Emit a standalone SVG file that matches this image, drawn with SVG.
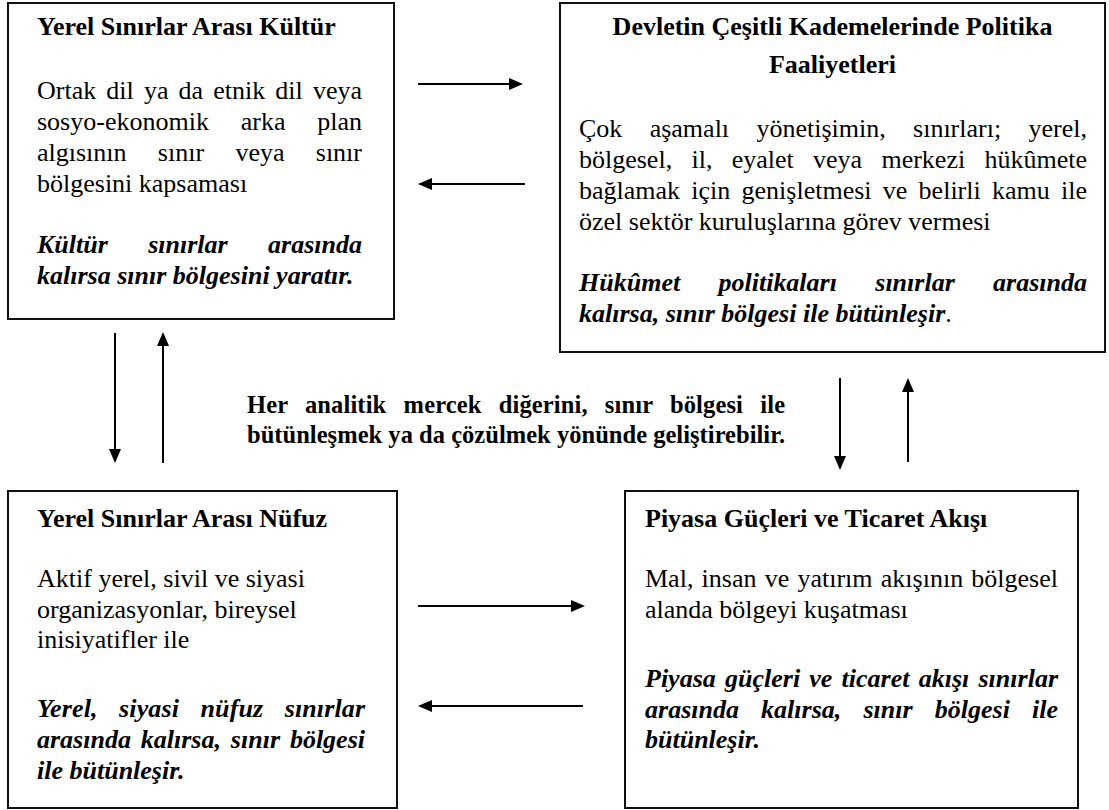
<svg xmlns="http://www.w3.org/2000/svg" width="1109" height="810" viewBox="0 0 1109 810">
<style>
.box{fill:#fff;stroke:#111;stroke-width:2}
text{font-family:"Liberation Serif","Times New Roman",serif;font-size:26px;fill:#000}
.t{font-weight:bold}
.bi{font-weight:bold;font-style:italic}
.mid{font-weight:bold;font-size:24.5px}
.arr{stroke:#000;stroke-width:2;fill:none;marker-end:url(#ah)}
</style>
<defs>
<marker id="ah" markerUnits="userSpaceOnUse" markerWidth="14" markerHeight="12" refX="2" refY="6" orient="auto">
<path d="M0,0 L14,6 L0,12 z" fill="#000"/>
</marker>
</defs>
<rect width="1109" height="810" fill="#fff"/>

<g id="node-kultur">
<rect class="box" x="8" y="3" width="386" height="316"/>
<text class="t" x="37" y="35">Yerel Sınırlar Arası Kültür</text>
<text x="37" y="99" word-spacing="3.6" textLength="325" lengthAdjust="spacing">Ortak dil ya da etnik dil veya</text>
<text x="37" y="130" word-spacing="25.3" textLength="325" lengthAdjust="spacing">sosyo-ekonomik arka plan</text>
<text x="37" y="161" word-spacing="24.8" textLength="325" lengthAdjust="spacing">algısının sınır veya sınır</text>
<text x="37" y="192">bölgesini kapsaması</text>
<text class="bi" x="37" y="253" word-spacing="33.9" textLength="325" lengthAdjust="spacing">Kültür sınırlar arasında</text>
<text class="bi" x="37" y="284">kalırsa sınır bölgesini yaratır.</text>
</g>

<g id="node-politika">
<rect class="box" x="560" y="3" width="545" height="349"/>
<text class="t" x="832.5" y="35" text-anchor="middle">Devletin Çeşitli Kademelerinde Politika</text>
<text class="t" x="832.5" y="73" text-anchor="middle">Faaliyetleri</text>
<text x="579" y="137" word-spacing="20.8" textLength="508" lengthAdjust="spacing">Çok aşamalı yönetişimin, sınırları; yerel,</text>
<text x="579" y="168" word-spacing="12.8" textLength="508" lengthAdjust="spacing">bölgesel, il, eyalet veya merkezi hükûmete</text>
<text x="579" y="199" word-spacing="4.75" textLength="508" lengthAdjust="spacing">bağlamak için genişletmesi ve belirli kamu ile</text>
<text x="579" y="230">özel sektör kuruluşlarına görev vermesi</text>
<text class="bi" x="579" y="291" word-spacing="31.8" textLength="508" lengthAdjust="spacing">Hükûmet politikaları sınırlar arasında</text>
<text class="bi" x="579" y="322">kalırsa, sınır bölgesi ile bütünleşir<tspan font-weight="normal" font-style="normal">.</tspan></text>
</g>

<g id="node-nufuz">
<rect class="box" x="8" y="491" width="389" height="317"/>
<text class="t" x="37" y="527">Yerel Sınırlar Arası Nüfuz</text>
<text x="37" y="587">Aktif yerel, sivil ve siyasi</text>
<text x="37" y="618">organizasyonlar, bireysel</text>
<text x="37" y="648">inisiyatifler ile</text>
<text class="bi" x="37" y="717" word-spacing="14.9" textLength="328" lengthAdjust="spacing">Yerel, siyasi nüfuz sınırlar</text>
<text class="bi" x="37" y="748" word-spacing="3.4" textLength="328" lengthAdjust="spacing">arasında kalırsa, sınır bölgesi</text>
<text class="bi" x="37" y="779">ile bütünleşir.</text>
</g>

<g id="node-piyasa">
<rect class="box" x="625" y="491" width="453" height="317"/>
<text class="t" x="645" y="527">Piyasa Güçleri ve Ticaret Akışı</text>
<text x="645" y="587" word-spacing="1.7" textLength="413" lengthAdjust="spacing">Mal, insan ve yatırım akışının bölgesel</text>
<text x="645" y="618">alanda bölgeyi kuşatması</text>
<text class="bi" x="645" y="687" word-spacing="2.7" textLength="413" lengthAdjust="spacing">Piyasa güçleri ve ticaret akışı sınırlar</text>
<text class="bi" x="645" y="718" word-spacing="15.6" textLength="413" lengthAdjust="spacing">arasında kalırsa, sınır bölgesi ile</text>
<text class="bi" x="645" y="748">bütünleşir.</text>
</g>

<g id="note-center">
<text class="mid" x="247" y="413" word-spacing="11" textLength="538" lengthAdjust="spacing">Her analitik mercek diğerini, sınır bölgesi ile</text>
<text class="mid" x="247" y="443" textLength="538" lengthAdjust="spacing">bütünleşmek ya da çözülmek yönünde geliştirebilir.</text>
</g>

<g id="connectors">
<line class="arr" x1="418" y1="84" x2="511" y2="84"/>
<line class="arr" x1="525" y1="184" x2="430" y2="184"/>
<line class="arr" x1="418" y1="606" x2="573" y2="606"/>
<line class="arr" x1="583" y1="706" x2="430" y2="706"/>
<line class="arr" x1="115" y1="333" x2="115" y2="451"/>
<line class="arr" x1="163" y1="463" x2="163" y2="344"/>
<line class="arr" x1="840" y1="378" x2="840" y2="458"/>
<line class="arr" x1="908" y1="462" x2="908" y2="390"/>
</g>
</svg>
